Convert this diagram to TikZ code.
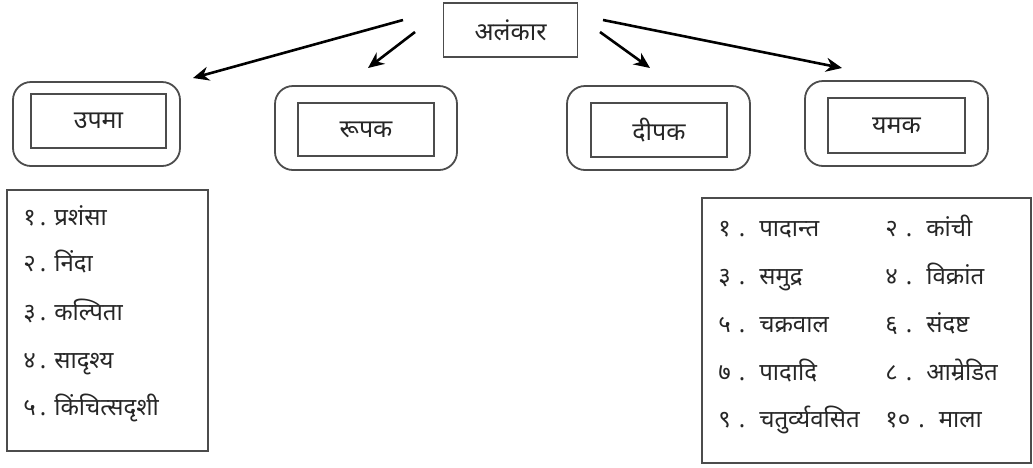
\documentclass[tikz,border=0pt]{standalone}
\usepackage{fontspec}
\setmainfont[Script=Devanagari]{Noto Sans}
\usetikzlibrary{arrows.meta}
\newcommand{\rnum}[2]{#1\hspace{4pt}.\hspace{7pt}#2}
\newcommand{\lnum}[2]{#1\hspace{2pt}.\hspace{4pt}#2}
\begin{document}
\begin{tikzpicture}[x=0.5pt,y=-0.5pt,
  outerbox/.style={draw=black!70,line width=0.9pt,rounded corners=9pt},
  innerbox/.style={draw=black!70,line width=0.9pt},
  listbox/.style={draw=black!70,line width=0.9pt},
  lbl/.style={font=\fontsize{12.5pt}{14pt}\selectfont,text=black!85},
  item/.style={font=\fontsize{12pt}{14pt}\selectfont,text=black!85,anchor=base west,inner sep=0pt},
  arr/.style={draw=black,line width=1.3pt,-{Stealth[length=8pt,width=7pt]}}]
\useasboundingbox (0,0) rectangle (1033,467);
% top box
\node[innerbox,lbl,minimum width=67pt,minimum height=27pt] (root) at (510.5,30) {अलंकार};
% child boxes
\draw[outerbox] (13,82) rectangle (180,166);
\node[innerbox,lbl,minimum width=67.5pt,minimum height=27pt] (upama) at (98.5,121) {उपमा};
\draw[outerbox] (275,86) rectangle (457,170);
\node[innerbox,lbl,minimum width=68pt,minimum height=26.5pt] (rupak) at (366,129.5) {रूपक};
\draw[outerbox] (567,86) rectangle (750,170);
\node[innerbox,lbl,minimum width=68pt,minimum height=27pt] (dipak) at (659,130) {दीपक};
\draw[outerbox] (805,81) rectangle (988,166);
\node[innerbox,lbl,minimum width=68.5pt,minimum height=27.5pt] (yamak) at (896.5,125.5) {यमक};
% arrows
\coordinate (s1) at (403,20); \coordinate (e1) at (193,78);
\coordinate (s2) at (415,32); \coordinate (e2) at (368,68);
\coordinate (s3) at (600,32); \coordinate (e3) at (650,68);
\coordinate (s4) at (603,20); \coordinate (e4) at (842,68);
\draw[arr] (s1) -- (e1);
\draw[arr] (s2) -- (e2);
\draw[arr] (s3) -- (e3);
\draw[arr] (s4) -- (e4);
% left list
\draw[listbox] (7,190) rectangle (208,451);
\node[item] (l1) at (23,225) {\lnum{१}{प्रशंसा}};
\node[item] (l2) at (23,271) {\lnum{२}{निंदा}};
\node[item] (l3) at (23,320) {\lnum{३}{कल्पिता}};
\node[item] (l4) at (23,368) {\lnum{४}{सादृश्य}};
\node[item] (l5) at (23,415) {\lnum{५}{किंचित्सदृशी}};
% right list
\draw[listbox] (702,198) rectangle (1031,463);
\node[item] (r1) at (718,236) {\rnum{१}{पादान्त}};
\node[item] (r2) at (885,236) {\rnum{२}{कांची}};
\node[item] (r3) at (718,284) {\rnum{३}{समुद्र}};
\node[item] (r4) at (885,284) {\rnum{४}{विक्रांत}};
\node[item] (r5) at (718,332) {\rnum{५}{चक्रवाल}};
\node[item] (r6) at (885,332) {\rnum{६}{संदष्ट}};
\node[item] (r7) at (718,380) {\rnum{७}{पादादि}};
\node[item] (r8) at (885,380) {\rnum{८}{आम्रेडित}};
\node[item] (r9) at (718,427) {\rnum{९}{चतुर्व्यवसित}};
\node[item] (r10) at (885,427) {\rnum{१०}{माला}};
\end{tikzpicture}
\end{document}
